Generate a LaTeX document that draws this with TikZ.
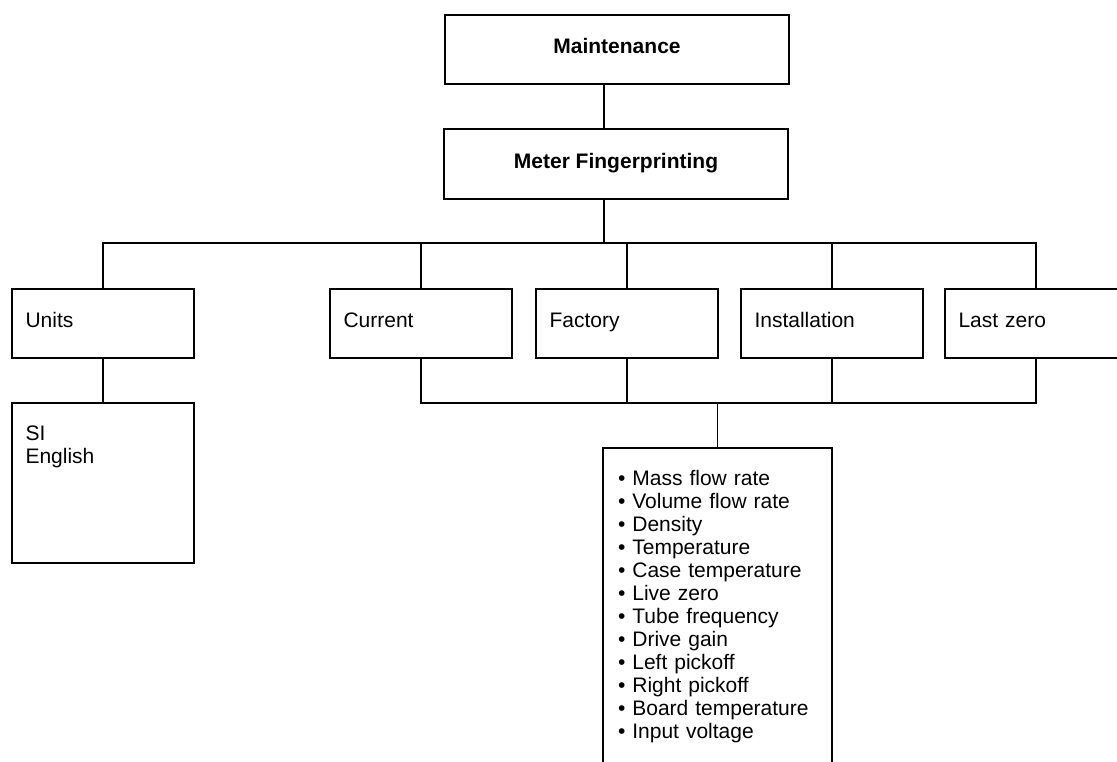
\documentclass[tikz,border=0pt]{standalone}
\usepackage{fontspec}
\setmainfont{Liberation Sans}
\usepackage{tikz}
\newcommand{\lbl}{\fontsize{21pt}{23pt}\selectfont}

\begin{document}
\begin{tikzpicture}[
    x=1pt, y=-1pt,
    top/.style={draw, line width=2.7pt, minimum width=344pt, minimum height=69pt, font=\lbl\bfseries,
        text height=15pt, text depth=7pt, anchor=north west, outer sep=0pt},
    leaf/.style={draw, line width=1.4pt, text width=155pt, inner xsep=13.5pt, minimum height=69pt,
        align=left, font=\lbl, text height=15pt, text depth=7pt, anchor=north west, outer sep=0pt},
    tall/.style={leaf, inner ysep=0pt, text height=37pt},
    wire/.style={line width=1.3pt}
]
\useasboundingbox (0,0) rectangle (1117,761);

\node[top] (maint) at (445,15) {Maintenance};
\node[top, minimum height=70pt] (finger) at (444,129) {Meter Fingerprinting};

\foreach \x/\name/\txt in {
    12/units/Units,
    330/current/Current,
    536/factory/Factory,
    741/install/Installation,
    945/lastzero/Last zero} {
    \node[leaf] (\name) at (\x,289) {\txt};
}

% Units
\node[tall, text depth=123pt] (si) at (12,403) {SI\\English};

% Readings
\node[tall, text width=199pt, inner xsep=15pt, text depth=330pt] (list) at (603,448) {%
    • Mass flow rate\\
    • Volume flow rate\\
    • Density\\
    • Temperature\\
    • Case temperature\\
    • Live zero\\
    • Tube frequency\\
    • Drive gain\\
    • Left pickoff\\
    • Right pickoff\\
    • Board temperature\\
    • Input voltage};

\coordinate (spine) at (604,243);
\coordinate (join) at (717,403);

\draw[wire] (maint.south -| spine) -- (finger.north -| spine);
\draw[wire] (finger.south -| spine) -- (spine);
\draw[wire] (units.north) -- (units.north |- spine) -- (lastzero.north |- spine) -- (lastzero.north);
\foreach \n in {current, factory, install}
    \draw[wire] (\n.north) -- (\n.north |- spine);

\draw[wire] (units.south) -- (si.north);
\draw[wire] (current.south) -- (current.south |- join) -- (lastzero.south |- join) -- (lastzero.south);
\foreach \n in {factory, install}
    \draw[wire] (\n.south) -- (\n.south |- join);
\draw[wire] (list.north |- join) -- (list.north);

\end{tikzpicture}
\end{document}
